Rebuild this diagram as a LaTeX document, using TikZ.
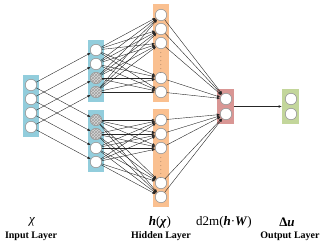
\documentclass[tikz,border=0pt]{standalone}
\usepackage{fontspec}
\setmainfont{Liberation Serif}
\usetikzlibrary{arrows.meta,patterns}
\definecolor{lblue}{HTML}{92CDDC}
\definecolor{lorange}{HTML}{FAC090}
\definecolor{lred}{HTML}{D99694}
\definecolor{lgreen}{HTML}{C3D69B}
\tikzset{
  neuron/.style={circle,draw=gray!80,line width=0.6pt,fill=white,inner sep=0pt,minimum size=11.4pt},
  hatched/.style={neuron,fill=gray!30,postaction={pattern=crosshatch,pattern color=gray!75}},
  layerbox/.style={rectangle,inner sep=0pt,minimum width=16pt},
  conn/.style={line width=0.4pt,draw=black!85,-{Latex[length=3.2pt,width=2.6pt]}},
  symtext/.style={font=\fontsize{13}{15}\selectfont,inner sep=0pt},
  captext/.style={font=\bfseries\fontsize{10}{12}\selectfont,inner sep=0pt},
  vdotsnode/.style={inner sep=0pt,font=\fontsize{5}{5}\selectfont}
}
\begin{document}
\begin{tikzpicture}[x=1pt,y=-1pt]
\useasboundingbox (0,0) rectangle (327,246);
% layer boxes
\node[layerbox,fill=lblue,minimum height=62pt] (IN) at (31,106) {};
\node[layerbox,fill=lblue,minimum height=62pt] (HA) at (96,71) {};
\node[layerbox,fill=lblue,minimum height=62pt] (HB) at (96,141) {};
\node[layerbox,fill=lorange,minimum height=98pt] (HC) at (161,53) {};
\node[layerbox,fill=lorange,minimum height=98pt] (HD) at (161,158) {};
\node[layerbox,fill=lred,minimum width=17pt,minimum height=35pt] (RD) at (225.5,106.5) {};
\node[layerbox,fill=lgreen,minimum width=17pt,minimum height=35pt] (GR) at (290.5,106.5) {};
% input neurons
\foreach \k/\y in {1/85,2/99,3/113,4/127} \node[neuron] (i\k) at (31,\y) {};
% hidden 1
\node[neuron] (a1) at (96,50) {};
\node[neuron] (a2) at (96,64) {};
\node[hatched] (a3) at (96,78) {};
\node[hatched] (a4) at (96,92) {};
\node[hatched] (b1) at (96,120) {};
\node[hatched] (b2) at (96,134) {};
\node[neuron] (b3) at (96,148) {};
\node[neuron] (b4) at (96,162) {};
% hidden 2
\foreach \k/\y in {1/15,2/29,3/43,4/78,5/92} \node[neuron] (c\k) at (161,\y) {};
\foreach \k/\y in {1/120,2/134,3/148,4/183,5/197} \node[neuron] (d\k) at (161,\y) {};
\node[vdotsnode] (cv1) at (161,54) {$\vdots$};
\node[vdotsnode] (cv2) at (161,66) {$\vdots$};
\node[vdotsnode] (dv1) at (161,159) {$\vdots$};
\node[vdotsnode] (dv2) at (161,171) {$\vdots$};
% d2m layer and output
\node[neuron] (r1) at (226,99) {};
\node[neuron] (r2) at (226,114) {};
\node[neuron] (g1) at (291,99) {};
\node[neuron] (g2) at (291,114) {};
% connections
\foreach \k in {1,...,4} {
  \draw[conn] (i\k) -- (a\k);
  \draw[conn] (i\k) -- (b\k);
}
\foreach \s in {1,...,4} \foreach \t in {1,...,5} {
  \draw[conn] (a\s) -- (c\t);
  \draw[conn] (b\s) -- (d\t);
}
\foreach \t in {1,...,5} {
  \draw[conn] (c\t) -- (r1);
  \draw[conn] (d\t) -- (r2);
}
\draw[conn] (RD.east) -- (GR.west);
% labels
\node[symtext] (l1) at (32,222) {\textit{χ}};
\node[captext] (c1l) at (31,236) {Input Layer};
\node[symtext] (l2) at (160,222) {\textbf{\textit{h}}(\textbf{\textit{χ}})};
\node[captext] (c2l) at (161,236) {Hidden Layer};
\node[symtext] (l3) at (224,222) {d2m(\textbf{\textit{h}}·\textbf{\textit{W}})};
\node[symtext] (l4) at (287,222) {\textbf{Δ\textit{u}}};
\node[captext] (c3l) at (290,236) {Output Layer};
\end{tikzpicture}
\end{document}
